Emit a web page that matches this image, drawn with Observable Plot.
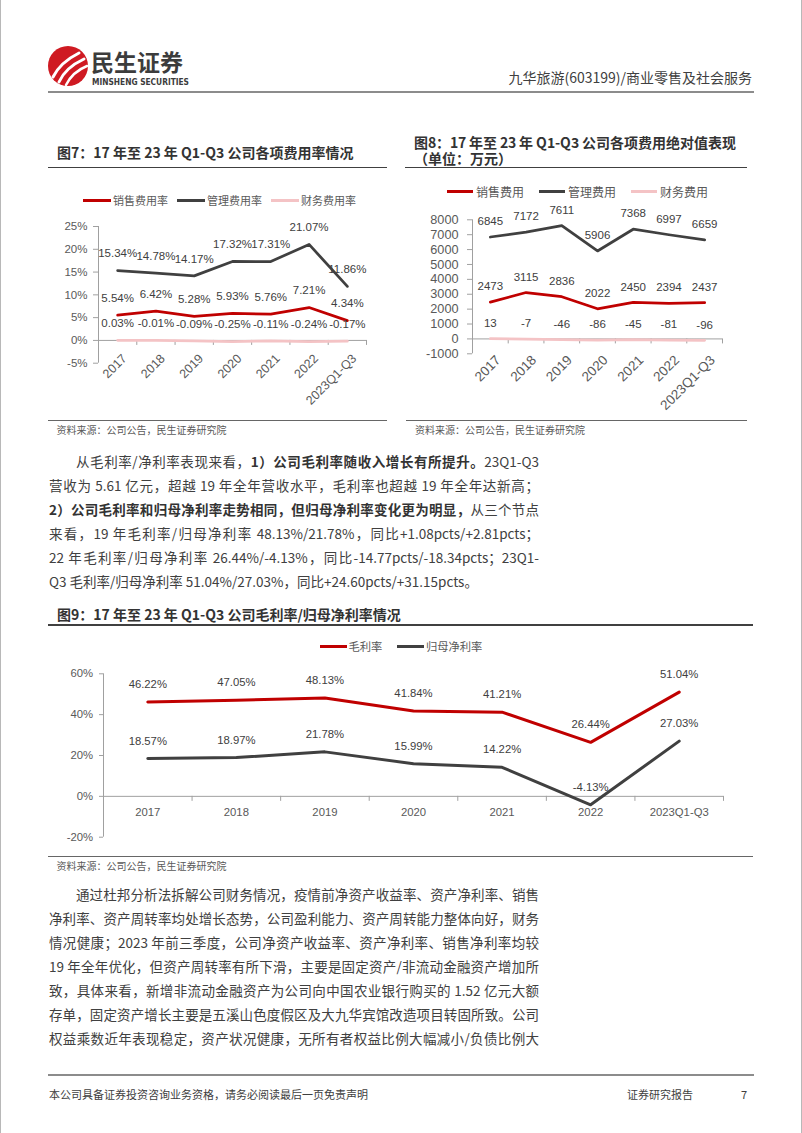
<!DOCTYPE html>
<html><head><meta charset="utf-8">
<script src="https://cdn.jsdelivr.net/npm/d3@7"></script>
<script src="https://cdn.jsdelivr.net/npm/@observablehq/plot@0.6"></script>
<style>
@font-face{font-family:"TitleCJK";src:local("Noto Sans CJK SC Bold"),local("NotoSansCJKsc-Bold"),local("Noto Sans CJK SC");font-weight:700;ascent-override:88%;descent-override:12%;line-gap-override:0%;}
html,body{margin:0;padding:0;background:#fff;}
#page{position:relative;width:802px;height:1133px;overflow:hidden;background:#fff;font-family:"Noto Sans CJK SC","Noto Sans",sans-serif;color:#404040;}
.abs{position:absolute;white-space:nowrap;line-height:1;}
.title{font-weight:700;font-size:14px;color:#333;}
.title2{font-family:"TitleCJK","Noto Sans CJK SC",sans-serif;}
.hr{position:absolute;}
.src{font-size:10px;color:#595959;}
.para{position:absolute;left:49px;width:490px;font-size:13.5px;color:#404040;}
.para div{position:absolute;left:0;width:100%;line-height:1;text-align:justify;text-align-last:justify;}
.para div.last{text-align-last:left;}
.para b{color:#333;}
.chart{position:absolute;}
.chart svg{overflow:visible;background:transparent;}
</style>
</head><body>
<div id="page">
  <div class="hr" style="left:0;top:0;width:1px;height:1133px;background:#b8b8b8"></div>
  <div class="hr" style="left:801px;top:0;width:1px;height:1133px;background:#b8b8b8"></div>

  <svg class="abs" style="left:44px;top:42px" width="160" height="50">
    <circle cx="24" cy="24" r="20" fill="#cf1a22"/>
    <path d="M9,35 C13,27 21,18 35,11" stroke="#fff" stroke-width="3" fill="none" stroke-linecap="round"/>
    <path d="M15,40 C19,31 27,23 40,17" stroke="#fff" stroke-width="3" fill="none" stroke-linecap="round"/>
    <path d="M22,43 C26,35 33,28 43,24" stroke="#fff" stroke-width="2.5" fill="none" stroke-linecap="round"/>
    <text x="47" y="29" font-size="23" font-weight="700" fill="#3c3c3c" font-family="Noto Sans CJK SC">民生证券</text>
    <text x="48" y="43" font-size="9" font-weight="700" fill="#3c3c3c" font-family="DejaVu Sans Condensed, Liberation Sans" textLength="97" lengthAdjust="spacingAndGlyphs">MINSHENG SECURITIES</text>
  </svg>
  <div class="abs" style="right:50px;top:70px;font-size:14px;color:#404040">九华旅游(603199)/商业零售及社会服务</div>
  <div class="hr" style="left:48px;top:91px;width:706px;height:2px;background:#8c8c8c"></div>

  <div class="abs title" style="left:57px;top:145px">图7：17 年至 23 年 Q1-Q3 公司各项费用率情况</div>
  <div class="title title2" style="position:absolute;left:414px;top:136.4px;line-height:15.3px;white-space:nowrap;">图8：17 年至 23 年 Q1-Q3 公司各项费用绝对值表现<br>（单位：万元）</div>
  <div class="hr" style="left:48px;top:166.5px;width:339px;height:1.5px;background:#404040"></div>
  <div class="hr" style="left:405px;top:166.5px;width:342px;height:1.5px;background:#404040"></div>

  <div class="hr" style="left:48px;top:419.5px;width:339px;height:1px;background:#666"></div>
  <div class="hr" style="left:406px;top:419.5px;width:341px;height:1px;background:#666"></div>
  <div class="abs src" style="left:56.5px;top:424.5px">资料来源：公司公告，民生证券研究院</div>
  <div class="abs src" style="left:415px;top:424.5px">资料来源：公司公告，民生证券研究院</div>

  <div class="para" id="para1"></div>

  <div class="abs title" style="left:57px;top:607.3px">图9：17 年至 23 年 Q1-Q3 公司毛利率/归母净利率情况</div>
  <div class="hr" style="left:48px;top:624px;width:705px;height:1.5px;background:#404040"></div>

  <div class="hr" style="left:48px;top:855.5px;width:705px;height:1px;background:#666"></div>
  <div class="abs src" style="left:56.5px;top:860.5px">资料来源：公司公告，民生证券研究院</div>

  <div class="para" id="para2"></div>

  <div class="hr" style="left:48px;top:1074px;width:706px;height:1.5px;background:#8c8c8c"></div>
  <div class="abs" style="left:49px;top:1089px;font-size:11px;color:#404040">本公司具备证券投资咨询业务资格，请务必阅读最后一页免责声明</div>
  <div class="abs" style="left:627px;top:1089px;font-size:11px;color:#404040">证券研究报告</div>
  <div class="abs" style="left:741px;top:1089px;font-size:11px;color:#404040">7</div>
</div>
<script>
// ---------- data ----------
const years = ["2017", "2018", "2019", "2020", "2021", "2022", "2023Q1-Q3"];

const rateNames = ["销售费用率", "管理费用率", "财务费用率"];
const salesRate = [5.54, 6.42, 5.28, 5.93, 5.76, 7.21, 4.34];
const mgmtRate = [15.34, 14.78, 14.17, 17.32, 17.31, 21.07, 11.86];
const finRate = [0.03, -0.01, -0.09, -0.25, -0.11, -0.24, -0.17];
const rateTicks = [-5, 0, 5, 10, 15, 20, 25];

const expNames = ["销售费用", "管理费用", "财务费用"];
const salesExp = [2473, 3115, 2836, 2022, 2450, 2394, 2437];
const mgmtExp = [6845, 7172, 7611, 5906, 7368, 6997, 6659];
const finExp = [13, -7, -46, -86, -45, -81, -96];
const expTicks = [-1000, 0, 1000, 2000, 3000, 4000, 5000, 6000, 7000, 8000];

const marginNames = ["毛利率", "归母净利率"];
const grossMargin = [46.22, 47.05, 48.13, 41.84, 41.21, 26.44, 51.04];
const netMargin = [18.57, 18.97, 21.78, 15.99, 14.22, -4.13, 27.03];
const marginTicks = [-20, 0, 20, 40, 60];

const para1 = [
  "从毛利率/净利率表现来看，<b>1）公司毛利率随收入增长有所提升。</b>23Q1-Q3",
  "营收为 5.61 亿元，超越 19 年全年营收水平，毛利率也超越 19 年全年达新高；",
  "<b>2）公司毛利率和归母净利率走势相同，但归母净利率变化更为明显，</b>从三个节点",
  "来看，19 年毛利率/归母净利率 48.13%/21.78%，同比+1.08pcts/+2.81pcts；",
  "22 年毛利率/归母净利率 26.44%/-4.13%，同比-14.77pcts/-18.34pcts；23Q1-",
  "Q3 毛利率/归母净利率 51.04%/27.03%，同比+24.60pcts/+31.15pcts。"
];
const para2 = [
  "通过杜邦分析法拆解公司财务情况，疫情前净资产收益率、资产净利率、销售",
  "净利率、资产周转率均处增长态势，公司盈利能力、资产周转能力整体向好，财务",
  "情况健康；2023 年前三季度，公司净资产收益率、资产净利率、销售净利率均较",
  "19 年全年优化，但资产周转率有所下滑，主要是固定资产/非流动金融资产增加所",
  "致，具体来看，新增非流动金融资产为公司向中国农业银行购买的 1.52 亿元大额",
  "存单，固定资产增长主要是五溪山色度假区及大九华宾馆改造项目转固所致。公司",
  "权益乘数近年表现稳定，资产状况健康，无所有者权益比例大幅减小/负债比例大"
];

// ---------- styles ----------
const RED = "#c00000", DARK = "#404040", PINK = "#f4c3c5";
const AXIS = "#a0a0a0", TICKTXT = "#595959", LABEL = "#404040";
const FONT = "'Liberation Sans','Noto Sans CJK SC',sans-serif";

const page = document.getElementById("page");

function paragraph(id, lines, firstCenter, step, lastJustified) {
  const el = document.getElementById(id);
  const fs = 13.5;
  lines.forEach((html, k) => {
    const d = document.createElement("div");
    d.innerHTML = html;
    d.style.top = (firstCenter + k * step - 0.55 * fs) + "px";
    if (k === 0) d.style.textIndent = "2em";
    if (k === lines.length - 1 && !lastJustified) d.className = "last";
    el.appendChild(d);
  });
}
paragraph("para1", para1, 462.5, 24, false);
paragraph("para2", para2, 895, 24, true);

function legend(names, colors, {left, center, swatch, gap, itemGap, fontSize}) {
  const div = document.createElement("div");
  div.style.cssText = `position:absolute;left:${left}px;top:${center - fontSize / 2}px;display:flex;align-items:center;font-size:${fontSize}px;line-height:1;color:#595959;white-space:nowrap;`;
  names.forEach((name, k) => {
    const sw = document.createElement("span");
    sw.style.cssText = `display:inline-block;width:${swatch}px;height:3px;background:${colors[k]};margin-right:${gap}px;`;
    const tx = document.createElement("span");
    tx.textContent = name;
    tx.style.marginRight = (k < names.length - 1 ? itemGap : 0) + "px";
    div.appendChild(sw); div.appendChild(tx);
  });
  page.appendChild(div);
}
legend(rateNames, [RED, DARK, PINK], {left: 83, center: 200, swatch: 28, gap: 2, itemGap: 9, fontSize: 11});
legend(expNames, [RED, DARK, PINK], {left: 447, center: 191.7, swatch: 26, gap: 3, itemGap: 15, fontSize: 12});
legend(marginNames, [RED, DARK], {left: 320, center: 646.7, swatch: 27, gap: 1.5, itemGap: 15, fontSize: 11.3});

const n = years.length;
const bounds = d3.range(n + 1).map(i => i - 0.5);
const tidy = values => values.map((v, i) => ({i, v}));

function chart(cfg) {
  const plotH = cfg.height - cfg.marginTop - cfg.marginBottom;
  const [y0, y1] = cfg.yDomain;
  const tickDepth = 5 * (y1 - y0) / plotH;
  const marks = [
    Plot.ruleX([-0.5], {y1: y0, y2: y1, stroke: AXIS}),
    Plot.ruleY([0], {x1: -0.5, x2: n - 0.5, stroke: AXIS}),
    Plot.ruleX(bounds, {x: d => d, y1: 0, y2: -tickDepth, stroke: AXIS}),
    Plot.axisY(cfg.ticks, {tickSize: cfg.tickSize, tickPadding: cfg.tickPadding, tickFormat: cfg.tickFormat,
      fontSize: cfg.tickFont, stroke: AXIS, fill: TICKTXT, label: null})
  ];
  cfg.series.forEach(s => marks.push(Plot.line(tidy(s.values), {x: "i", y: "v", stroke: s.color, strokeWidth: cfg.lineWidth})));
  cfg.series.forEach(s => marks.push(Plot.text(tidy(s.values), {x: "i", y: "v", text: d => cfg.labelFormat(d.v),
    dy: cfg.labelDy, fontSize: cfg.labelFont, fill: LABEL})));
  marks.push(Plot.text(years, {x: (d, i) => i, y: () => 0, text: d => d,
    rotate: cfg.rotate, textAnchor: cfg.rotate ? "end" : "middle",
    dx: cfg.xdx, dy: cfg.xdy, fontSize: cfg.xFont, fill: TICKTXT}));
  const svg = Plot.plot({
    width: cfg.width, height: cfg.height,
    marginTop: cfg.marginTop, marginBottom: cfg.marginBottom, marginLeft: cfg.marginLeft, marginRight: cfg.marginRight,
    x: {domain: [-0.5, n - 0.5], axis: null},
    y: {domain: cfg.yDomain, label: null},
    style: {fontFamily: FONT, background: "transparent", overflow: "visible", color: TICKTXT},
    marks
  });
  const box = document.createElement("div");
  box.className = "chart";
  box.style.left = cfg.left + "px"; box.style.top = cfg.top + "px"; box.style.width = cfg.width + "px";
  box.appendChild(svg);
  page.appendChild(box);
}

chart({
  left: 40, top: 210, width: 345, height: 200,
  marginTop: 16, marginBottom: 47.3, marginLeft: 58, marginRight: 19,
  yDomain: [-5, 25], ticks: rateTicks, tickFormat: d => d + "%", tickSize: 5, tickPadding: 6, tickFont: 11.5,
  series: [{values: mgmtRate, color: DARK}, {values: salesRate, color: RED}, {values: finRate, color: PINK}],
  lineWidth: 2.75, labelFormat: v => v.toFixed(2) + "%", labelDy: -17, labelFont: 11.5,
  rotate: -45, xdx: 7, xdy: 16, xFont: 12.5
});

chart({
  left: 400, top: 205, width: 345, height: 205,
  marginTop: 14.3, marginBottom: 56.7, marginLeft: 72, marginRight: 23,
  yDomain: [-1000, 8000], ticks: expTicks, tickFormat: d => String(d), tickSize: 5, tickPadding: 9, tickFont: 12.7,
  series: [{values: mgmtExp, color: DARK}, {values: salesExp, color: RED}, {values: finExp, color: PINK}],
  lineWidth: 2.75, labelFormat: v => String(v), labelDy: -15.5, labelFont: 11.5,
  rotate: -45, xdx: 8, xdy: 19, xFont: 13.5
});

chart({
  left: 40, top: 655, width: 720, height: 190,
  marginTop: 18.3, marginBottom: 8.3, marginLeft: 63, marginRight: 37,
  yDomain: [-20, 60], ticks: marginTicks, tickFormat: d => d + "%", tickSize: 4, tickPadding: 6.5, tickFont: 11.3,
  series: [{values: grossMargin, color: RED}, {values: netMargin, color: DARK}],
  lineWidth: 3, labelFormat: v => v.toFixed(2) + "%", labelDy: -17.5, labelFont: 11.3,
  rotate: 0, xdx: 0, xdy: 15.7, xFont: 11.3
});
</script>
</body></html>
